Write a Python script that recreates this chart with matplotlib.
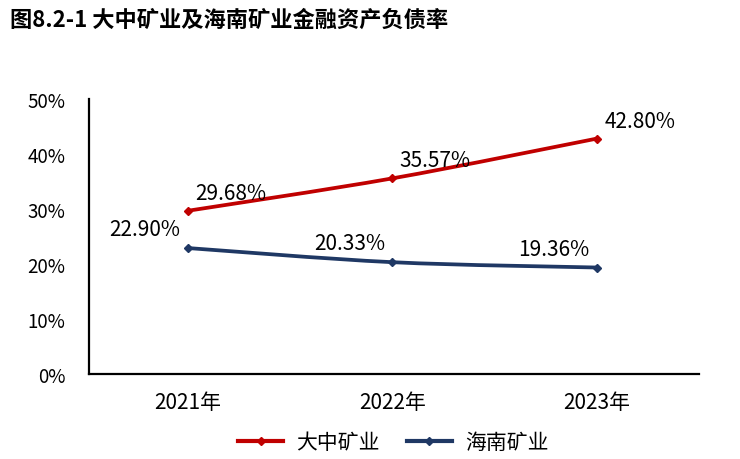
import matplotlib
matplotlib.use("Agg")
import matplotlib.pyplot as plt
from matplotlib.path import Path
from matplotlib.patches import PathPatch
from matplotlib.lines import Line2D

plt.rcParams['font.family'] = ['Noto Sans CJK SC', 'DejaVu Sans']

title = "图8.2-1 大中矿业及海南矿业金融资产负债率"
years = ["2021年", "2022年", "2023年"]
series_names = ["大中矿业", "海南矿业"]
dazhong = [29.68, 35.57, 42.80]
hainan = [22.90, 20.33, 19.36]
yticks = [0, 10, 20, 30, 40, 50]
ytick_labels = ["0%", "10%", "20%", "30%", "40%", "50%"]

red = "#C00000"
navy = "#1F3864"

fig = plt.figure(figsize=(7.4, 4.6), dpi=100)
ax = fig.add_axes([89/740, 1-375/460, 610/740, 275/460])


def smooth_path(xs, ys, t=1/6):
    verts = [(xs[0], ys[0])]
    codes = [Path.MOVETO]
    n = len(xs)
    for i in range(n - 1):
        p0 = (xs[max(i-1, 0)], ys[max(i-1, 0)])
        p1 = (xs[i], ys[i])
        p2 = (xs[i+1], ys[i+1])
        p3 = (xs[min(i+2, n-1)], ys[min(i+2, n-1)])
        c1 = (p1[0] + (p2[0]-p0[0])*t, p1[1] + (p2[1]-p0[1])*t)
        c2 = (p2[0] - (p3[0]-p1[0])*t, p2[1] - (p3[1]-p1[1])*t)
        verts += [c1, c2, p2]
        codes += [Path.CURVE4]*3
    return Path(verts, codes)


xs = list(range(len(years)))
for vals, col in [(dazhong, red), (hainan, navy)]:
    ax.add_patch(PathPatch(smooth_path(xs, vals), facecolor='none',
                           edgecolor=col, lw=2.7, capstyle='round', zorder=3))
    ax.plot(xs, vals, linestyle='none', marker='D', markersize=4.5,
            color=col, zorder=4)

# data labels (red: right-above, navy: left-above)
for i, v in enumerate(dazhong):
    ax.annotate(f"{v:.2f}%", (xs[i], v), xytext=(43, 18), textcoords='offset pixels',
                ha='center', va='center', fontsize=15, color='#000000')
for i, v in enumerate(hainan):
    ax.annotate(f"{v:.2f}%", (xs[i], v), xytext=(-43, 19), textcoords='offset pixels',
                ha='center', va='center', fontsize=15, color='#000000')

ax.set_xlim(-0.484, 2.5)
ax.set_ylim(0, 50)
ax.set_yticks(yticks)
ax.set_yticklabels(ytick_labels)
ax.set_xticks(xs)
ax.set_xticklabels(years)
ax.tick_params(axis='both', length=0, colors='#000000')
ax.tick_params(axis='y', pad=17, labelsize=13.5)
ax.tick_params(axis='x', pad=12, labelsize=15)
for s in ['top', 'right']:
    ax.spines[s].set_visible(False)
for s in ['left', 'bottom']:
    ax.spines[s].set_linewidth(1.6)
    ax.spines[s].set_color('#000000')

handles = [Line2D([], [], color=red, lw=3, marker='D', markersize=4),
           Line2D([], [], color=navy, lw=3, marker='D', markersize=4)]
fig.legend(handles, series_names, loc='center', bbox_to_anchor=(393/740, 1-443/460),
           ncol=2, frameon=False, fontsize=15, handlelength=2.2, columnspacing=1.3,
           handletextpad=0.6)

fig.text(10/740, 1-20/460, title, fontsize=16, fontweight='bold', ha='left', va='center')

fig.savefig("out.png", dpi=100)
